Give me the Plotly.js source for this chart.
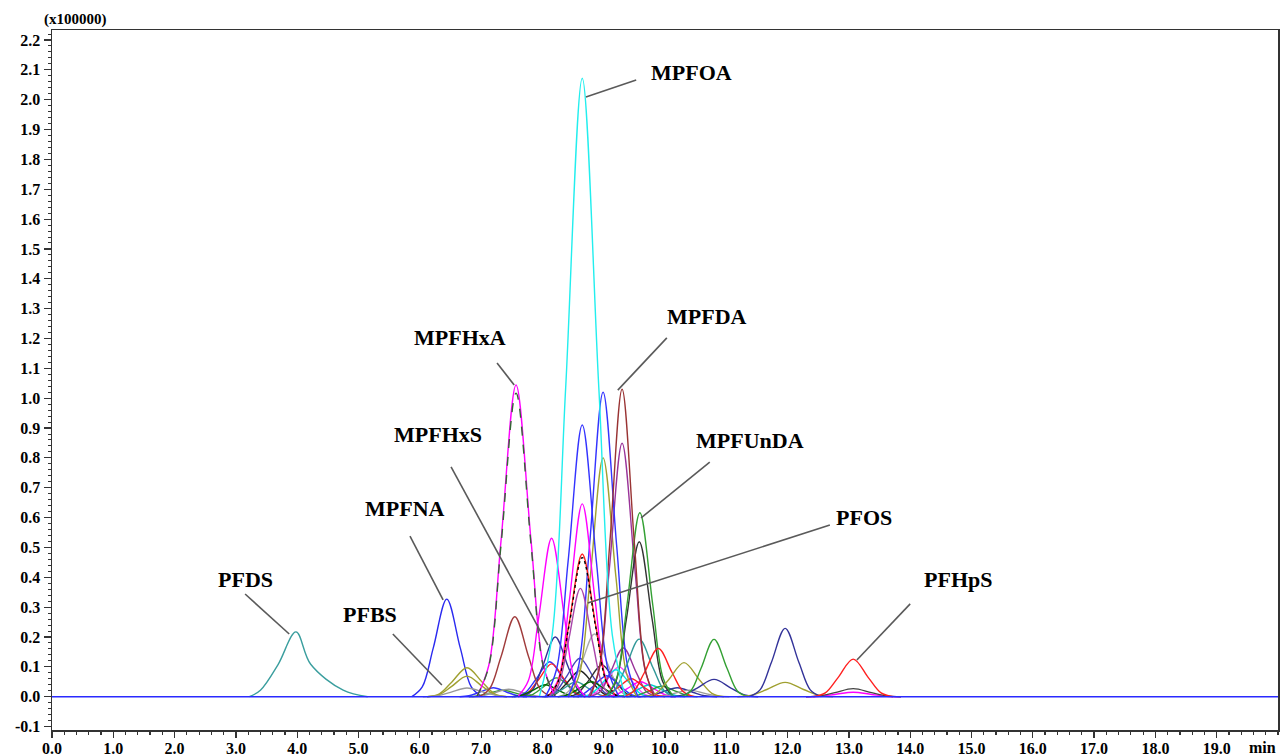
<!DOCTYPE html>
<html>
<head>
<meta charset="utf-8">
<script src="https://cdn.plot.ly/plotly-3.0.1.min.js"></script>
<style>
html,body{margin:0;padding:0;background:#fff;}
#chart{width:1283px;height:756px;}
</style>
</head>
<body>
<div id="chart"></div>
<script>
// ---- Peak data (time in min, intensity in x100000) ----
// Each peak: start (baseline), foot (10% height), half height, apex, half height, foot, end.
const peakApex      = [7.20,7.35,7.45,8.12,8.15,8.23,8.21,8.05,8.61,8.61,8.55,8.97,8.85,9.25,9.20,9.32,9.05,9.60,9.75,9.95,10.20,10.40,9.45,8.80,
                       3.98,6.44,6.77,6.77,6.77,7.55,8.15,8.99,9.30,8.65,8.99,8.65,8.65,8.65,8.62,9.58,9.59,9.58,9.89,10.31,10.80,10.80,11.96,11.96,13.07,13.07,13.07,9.30,7.57,7.57,8.65];
const peakHeight    = [0.030,0.022,0.025,0.117,0.110,0.063,0.200,0.040,0.129,0.087,0.050,0.106,0.210,0.100,0.090,0.163,0.070,0.050,0.040,0.035,0.030,0.022,0.060,0.050,
                       0.217,0.327,0.097,0.069,0.029,0.268,0.531,0.800,0.849,0.910,1.020,0.646,0.478,0.466,0.363,0.519,0.616,0.193,0.162,0.114,0.058,0.192,0.048,0.229,0.015,0.027,0.126,1.030,1.044,1.017,2.072];
const peakHalfLeft  = [6.98,7.12,7.20,7.895,7.93,8.01,8.00,7.83,8.385,8.39,8.33,8.75,8.625,9.03,8.975,9.11,8.83,9.37,9.52,9.72,9.95,10.15,9.23,8.58,
                       3.69,6.22,6.52,6.52,6.50,7.325,7.94,8.78,9.09,8.42,8.77,8.44,8.43,8.43,8.42,9.37,9.38,9.355,9.665,10.06,10.525,10.59,11.66,11.735,12.77,12.77,12.82,9.10,7.325,7.325,8.38];
const peakHalfRight = [7.42,7.58,7.70,8.345,8.37,8.45,8.42,8.27,8.835,8.83,8.77,9.19,9.075,9.47,9.425,9.53,9.27,9.83,9.98,10.18,10.45,10.65,9.67,9.02,
                       4.22,6.66,7.02,7.02,7.05,7.775,8.36,9.20,9.51,8.88,9.21,8.86,8.87,8.87,8.82,9.79,9.80,9.805,10.115,10.56,11.075,11.01,12.26,12.185,13.37,13.37,13.32,9.50,7.815,7.815,8.92];
const peakFootLeft  = [6.80,6.93,7.00,7.71,7.75,7.83,7.83,7.65,8.20,8.21,8.15,8.57,8.44,8.85,8.79,8.94,8.65,9.18,9.33,9.53,9.75,9.95,9.05,8.40,
                       3.40,6.04,6.32,6.32,6.28,7.14,7.77,8.61,8.92,8.23,8.59,8.27,8.25,8.25,8.255,9.20,9.21,9.17,9.48,9.855,10.30,10.42,11.415,11.55,12.525,12.525,12.615,8.935,7.125,7.125,8.16];
const peakFootRight = [7.60,7.77,7.90,8.53,8.55,8.63,8.59,8.45,9.02,9.01,8.95,9.37,9.26,9.65,9.61,9.70,9.45,10.02,10.17,10.37,10.65,10.85,9.85,9.20,
                       4.75,6.84,7.22,7.22,7.27,7.96,8.53,9.37,9.68,9.07,9.39,9.03,9.05,9.05,8.985,9.96,9.97,9.99,10.30,10.765,11.30,11.18,12.505,12.37,13.615,13.615,13.525,9.665,8.015,8.015,9.14];
const peakStart     = [6.65,6.80,6.85,7.54,7.60,7.68,7.66,7.50,8.03,8.05,8.00,8.42,8.27,8.70,8.62,8.77,8.50,9.02,9.17,9.37,9.55,9.75,8.90,8.25,
                       3.22,5.87,6.12,6.12,6.05,6.97,7.60,8.44,8.75,8.05,8.42,8.10,8.08,8.08,8.10,9.03,9.04,9.00,9.30,9.66,10.09,10.25,11.18,11.37,12.30,12.30,12.42,8.78,6.93,6.93,7.95];
const peakEnd       = [7.75,7.90,8.05,8.70,8.70,8.78,8.76,8.60,9.19,9.17,9.10,9.52,9.43,9.80,9.78,9.87,9.60,10.18,10.33,10.53,10.85,11.05,10.00,9.35,
                       5.15,7.01,7.42,7.42,7.50,8.14,8.70,9.54,9.85,9.25,9.56,9.20,9.22,9.22,9.14,10.13,10.14,10.16,10.48,10.96,11.52,11.35,12.74,12.55,13.85,13.85,13.72,9.82,8.21,8.21,9.35];
const peakColor     = ['#3333ff','#339933','#999999','#3333ff','#ff2020','#339933','#333399','#006600','#4444bb','#222222','#339999','#333333','#aaaaaa','#ff44ff','#00e5ee','#993399','#3333ff','#ff00ff','#00cccc','#339933','#333399','#999999','#ff2020','#006600',
                       '#3a9e9e','#2a2af0','#a0a030','#a0a030','#999999','#a03c3c','#ff00ff','#a0a030','#993399','#3333ff','#3333ff','#ff00ff','#ff2020','#000000','#aa44aa','#333333','#33a033','#339999','#ff2020','#a0a030','#333399','#33a033','#a0a030','#333399','#ff00ff','#444444','#ff2020','#993333','#ff00ff','#336633','#22eeee'];
const peakDash      = ['solid','solid','solid','solid','solid','solid','solid','solid','solid','solid','solid','solid','solid','solid','solid','solid','solid','solid','solid','solid','solid','solid','solid','solid',
                       'solid','solid','solid','solid','solid','solid','solid','solid','solid','solid','solid','solid','solid','dot','solid','solid','solid','solid','solid','solid','solid','solid','solid','solid','solid','solid','solid','solid','solid','dash','solid'];

const baselineX = [0, 20];
const baselineY = [0, 0];

const compoundNames = ['MPFOA','MPFDA','MPFHxA','MPFHxS','MPFNA','MPFUnDA','PFOS','PFDS','PFBS','PFHpS'];

const xTickVals = [0,1,2,3,4,5,6,7,8,9,10,11,12,13,14,15,16,17,18,19];
const xTickText = ['0.0','1.0','2.0','3.0','4.0','5.0','6.0','7.0','8.0','9.0','10.0','11.0','12.0','13.0','14.0','15.0','16.0','17.0','18.0','19.0'];
const yTickVals = [-0.1,0,0.1,0.2,0.3,0.4,0.5,0.6,0.7,0.8,0.9,1.0,1.1,1.2,1.3,1.4,1.5,1.6,1.7,1.8,1.9,2.0,2.1,2.2];
const yTickText = ['-0.1','0.0','0.1','0.2','0.3','0.4','0.5','0.6','0.7','0.8','0.9','1.0','1.1','1.2','1.3','1.4','1.5','1.6','1.7','1.8','1.9','2.0','2.1','2.2'];

// ---- label layout (positions in axis units) ----
const labelLayout = [
  {tx:10.44, ty:2.092, x0:8.71, y0:2.009, x1:9.53, y1:2.066},
  {tx:10.69, ty:1.275, x0:9.23, y0:1.027, x1:10.03, y1:1.202},
  {tx:6.66,  ty:1.202, x0:7.54, y0:1.044, x1:7.26, y1:1.118},
  {tx:6.30,  ty:0.877, x0:6.51, y0:0.770, x1:8.09, y1:0.173},
  {tx:5.76,  ty:0.629, x0:5.84, y0:0.538, x1:6.38, y1:0.324},
  {tx:11.39, ty:0.857, x0:9.61, y0:0.599, x1:10.73, y1:0.786},
  {tx:13.25, ty:0.599, x0:12.69, y0:0.575, x1:8.74, y1:0.314},
  {tx:3.16,  ty:0.394, x0:3.15, y0:0.344, x1:3.87, y1:0.210},
  {tx:5.19,  ty:0.277, x0:5.56, y0:0.210, x1:6.36, y1:0.039},
  {tx:14.78, ty:0.394, x0:14.0, y0:0.311, x1:13.13, y1:0.123}
];

const traces = [];
for (let i = 0; i < peakApex.length; i++) {
  const h = peakHeight[i];
  traces.push({
    type: 'scatter', mode: 'lines', hoverinfo: 'skip', showlegend: false,
    x: [peakStart[i], peakFootLeft[i], peakHalfLeft[i], peakApex[i], peakHalfRight[i], peakFootRight[i], peakEnd[i]],
    y: [0, h * 0.1, h * 0.5, h, h * 0.5, h * 0.1, 0],
    line: {color: peakColor[i], width: 1.4, shape: 'spline', smoothing: 1, dash: peakDash[i]}
  });
}
traces.push({
  type: 'scatter', mode: 'lines', hoverinfo: 'skip', showlegend: false,
  x: baselineX, y: baselineY,
  line: {color: '#2a2aff', width: 1.6}
});

const font = {family: 'Liberation Serif, Times New Roman, serif', color: '#000'};

const annotations = compoundNames.map((name, i) => ({
  x: labelLayout[i].tx, y: labelLayout[i].ty, xref: 'x', yref: 'y',
  text: name, showarrow: false,
  font: Object.assign({}, font, {size: 22, weight: 'bold'})
}));
annotations.push({
  xref: 'paper', yref: 'paper', x: -0.008, y: 1.0, xanchor: 'left', yanchor: 'bottom',
  text: '(x100000)', showarrow: false, font: Object.assign({}, font, {size: 15, weight: 'bold'})
});
annotations.push({
  xref: 'paper', yref: 'paper', x: 1.0, y: 0, xanchor: 'right', yanchor: 'top', yshift: -7,
  text: 'min', showarrow: false, font: Object.assign({}, font, {size: 16, weight: 'bold'})
});

const shapes = labelLayout.map(l => ({
  type: 'line', xref: 'x', yref: 'y', x0: l.x0, y0: l.y0, x1: l.x1, y1: l.y1,
  line: {color: '#5a5a5a', width: 1.6}
}));

const layout = {
  width: 1283, height: 756,
  margin: {l: 52, r: 5, t: 30, b: 26, pad: 0},
  paper_bgcolor: '#fff', plot_bgcolor: '#fff',
  showlegend: false,
  xaxis: {
    range: [0, 20], showgrid: false, zeroline: false,
    showline: true, mirror: true, linecolor: '#333', linewidth: 1.5,
    ticks: 'outside', ticklen: 6, tickwidth: 1.2, tickcolor: '#333',
    tickvals: xTickVals, ticktext: xTickText, ticklabelstandoff: -3,
    tickfont: Object.assign({}, font, {size: 16, weight: 'bold'}),
    minor: {dtick: 0.2, ticks: 'outside', ticklen: 3, tickwidth: 1.2, tickcolor: '#333', showgrid: false}
  },
  yaxis: {
    range: [-0.1116, 2.2335], showgrid: false, zeroline: false,
    showline: true, mirror: true, linecolor: '#333', linewidth: 1.5,
    ticks: 'outside', ticklen: 7, tickwidth: 1.2, tickcolor: '#333',
    tickvals: yTickVals, ticktext: yTickText,
    tickfont: Object.assign({}, font, {size: 16, weight: 'bold'}),
    minor: {dtick: 0.02, ticks: 'outside', ticklen: 3, tickwidth: 1, tickcolor: '#333', showgrid: false}
  },
  annotations: annotations,
  shapes: shapes
};

Plotly.newPlot('chart', traces, layout, {displayModeBar: false, staticPlot: true});
</script>
</body>
</html>
